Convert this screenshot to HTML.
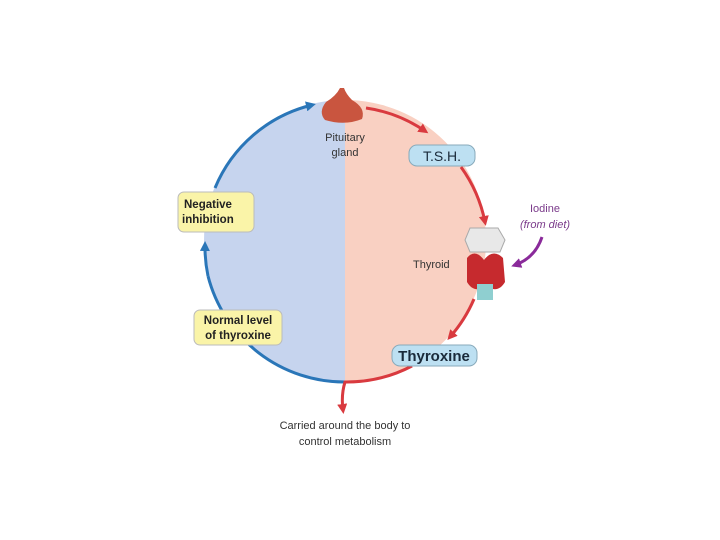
<!DOCTYPE html><html><head><style>body{margin:0;background:#fff}svg{display:block}text{font-family:"Liberation Sans",sans-serif}</style></head><body>
<svg width="720" height="540" viewBox="0 0 720 540">
<defs>
<marker id="ar" markerUnits="userSpaceOnUse" markerWidth="10" markerHeight="10" refX="6" refY="5" orient="auto"><path d="M0,0 L10,5 L0,10 z" fill="#d93a3f"/></marker>
<marker id="ab" markerUnits="userSpaceOnUse" markerWidth="10" markerHeight="10" refX="6" refY="5" orient="auto"><path d="M0,0 L10,5 L0,10 z" fill="#2a76b8"/></marker>
<marker id="ap" markerUnits="userSpaceOnUse" markerWidth="10" markerHeight="10" refX="6" refY="5" orient="auto"><path d="M0,0 L10,5 L0,10 z" fill="#8a2a9a"/></marker>
<clipPath id="L"><rect x="0" y="0" width="345" height="540"/></clipPath>
<clipPath id="R"><rect x="345" y="0" width="400" height="540"/></clipPath>
</defs>
<circle cx="345" cy="241" r="141" fill="#c6d4ee" clip-path="url(#L)"/>
<circle cx="345" cy="241" r="141" fill="#f9d0c2" clip-path="url(#R)"/>
<path d="M345,382 A141,141 0 0 1 208,276" fill="none" stroke="#2a76b8" stroke-width="3"/>
<path d="M208,276 A141,141 0 0 1 205,245" fill="none" stroke="#2a76b8" stroke-width="3" marker-end="url(#ab)"/>
<path d="M215,188 A141,141 0 0 1 312,105" fill="none" stroke="#2a76b8" stroke-width="3" marker-end="url(#ab)"/>
<path d="M366,108 A141,141 0 0 1 425,131" fill="none" stroke="#d93a3f" stroke-width="3" marker-end="url(#ar)"/>
<path d="M461,167 A141,141 0 0 1 485,222" fill="none" stroke="#d93a3f" stroke-width="3" marker-end="url(#ar)"/>
<path d="M474,299 A141,141 0 0 1 450,337" fill="none" stroke="#d93a3f" stroke-width="3" marker-end="url(#ar)"/>
<path d="M412,366 A141,141 0 0 1 345,382 Q341,395 343,410" fill="none" stroke="#d93a3f" stroke-width="3" marker-end="url(#ar)"/>
<path d="M340,88 Q336,96 326,102 Q318,112 325,120 Q345,126 362,119 Q366,108 352,100 Q346,94 344,88 z" fill="#c9553f"/>
<text x="345" y="141" font-size="11" fill="#333" text-anchor="middle">Pituitary</text>
<text x="345" y="156" font-size="11" fill="#333" text-anchor="middle">gland</text>
<rect x="409" y="145" width="66" height="21" rx="8" fill="#bde0f2" stroke="#8ab" stroke-width="1"/>
<text x="442" y="161" font-size="14" fill="#1a2a3a" text-anchor="middle">T.S.H.</text>
<rect x="392" y="345" width="85" height="21" rx="8" fill="#bde0f2" stroke="#8ab" stroke-width="1"/>
<text x="434" y="361" font-size="15" font-weight="bold" fill="#1a2a3a" text-anchor="middle">Thyroxine</text>
<rect x="178" y="192" width="76" height="40" rx="6" fill="#faf4a8" stroke="#bbb" stroke-width="1"/>
<text x="184" y="208" font-size="11.5" font-weight="bold" fill="#222">Negative</text>
<text x="182" y="223" font-size="11.5" font-weight="bold" fill="#222">inhibition</text>
<rect x="194" y="310" width="88" height="35" rx="6" fill="#faf4a8" stroke="#bbb" stroke-width="1"/>
<text x="238" y="324" font-size="11.5" font-weight="bold" fill="#222" text-anchor="middle">Normal level</text>
<text x="238" y="339" font-size="11.5" font-weight="bold" fill="#222" text-anchor="middle">of thyroxine</text>
<path d="M470,228 L498,228 L505,240 L500,252 L470,252 L465,240 z" fill="#e8e8e8" stroke="#aaa"/>
<path d="M467,258 Q475,248 484,260 Q493,248 503,258 L505,282 Q498,294 486,286 Q474,294 467,282 z" fill="#c62a2e"/>
<rect x="477" y="284" width="16" height="16" fill="#8fcfd0"/>
<text x="413" y="268" font-size="11" fill="#333">Thyroid</text>
<text x="545" y="212" font-size="11" fill="#7a3a8a" text-anchor="middle">Iodine</text>
<text x="545" y="228" font-size="11" font-style="italic" fill="#7a3a8a" text-anchor="middle">(from diet)</text>
<path d="M542,237 Q535,258 515,265" fill="none" stroke="#8a2a9a" stroke-width="3" marker-end="url(#ap)"/>
<text x="345" y="429" font-size="11" fill="#333" text-anchor="middle">Carried around the body to</text>
<text x="345" y="445" font-size="11" fill="#333" text-anchor="middle">control metabolism</text>
</svg></body></html>
